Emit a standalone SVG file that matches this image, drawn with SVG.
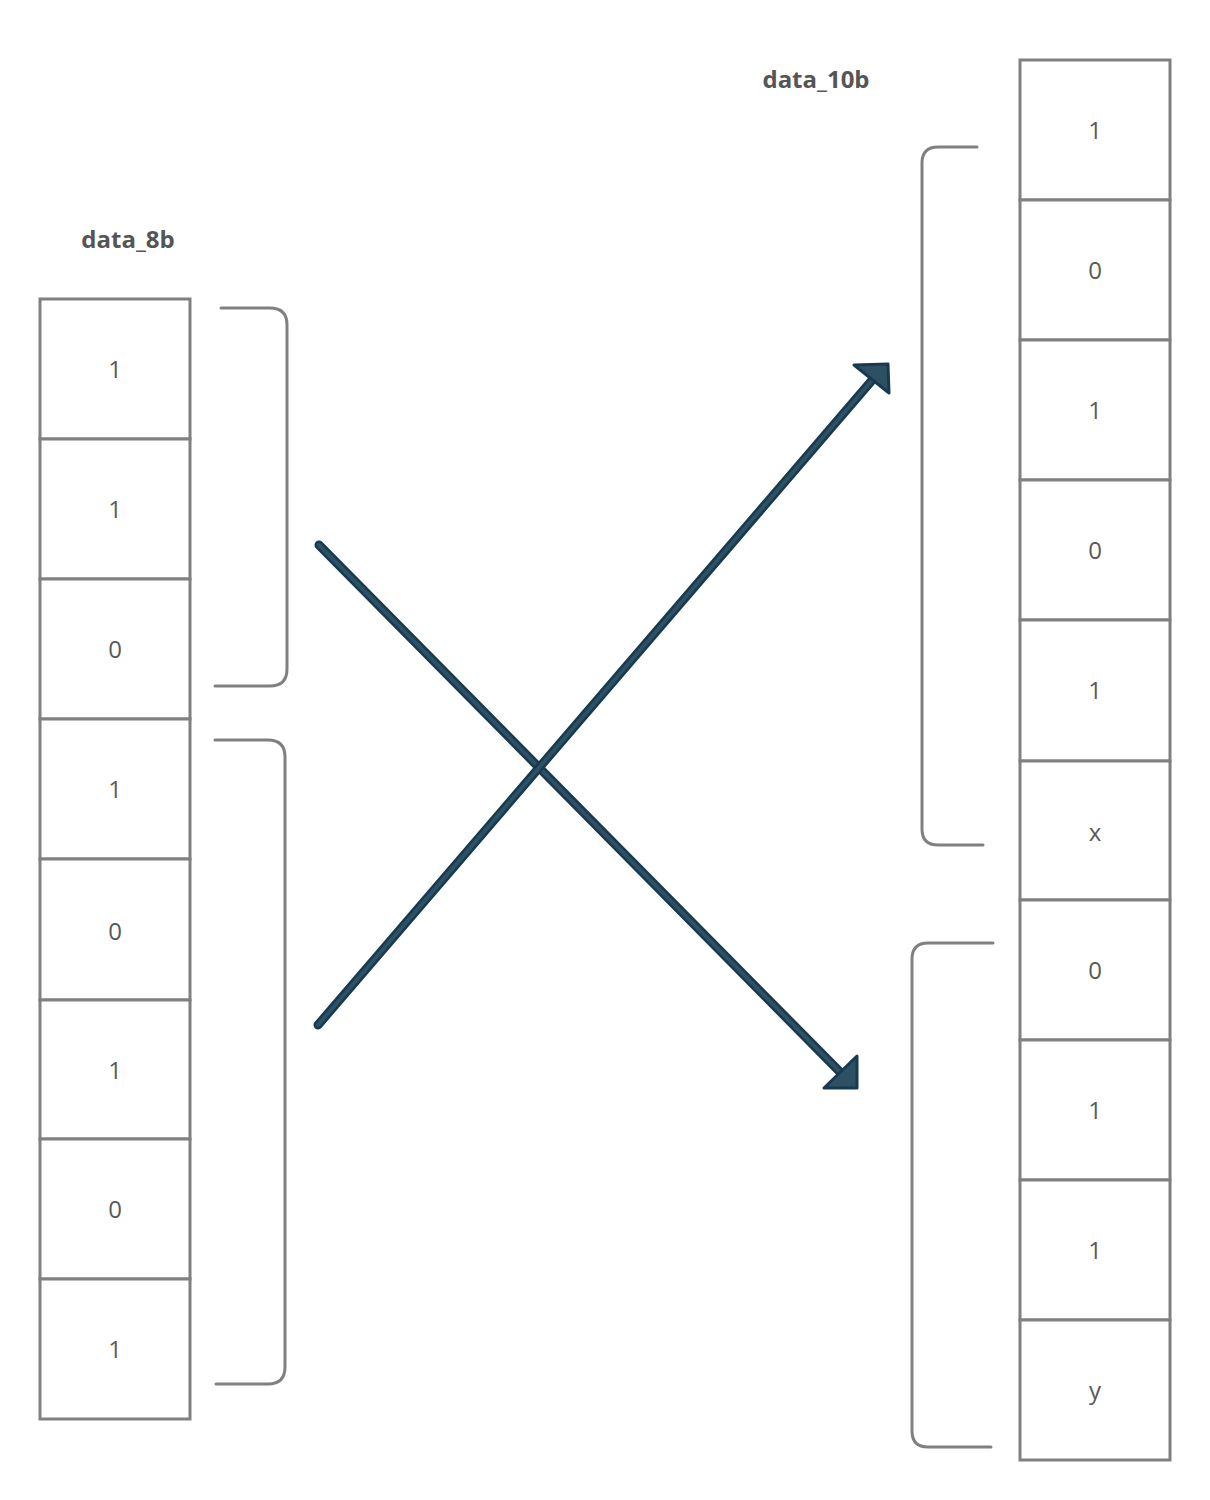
<svg xmlns="http://www.w3.org/2000/svg" width="1210" height="1500" viewBox="0 0 1210 1500">
<style>
.cell{fill:#fff;stroke:#808080;stroke-width:3}
.val{font-family:"Open Sans","Liberation Sans",sans-serif;font-size:24px;font-weight:400;fill:#595959;text-anchor:middle}
.lbl{font-family:"Open Sans","Liberation Sans",sans-serif;font-size:24px;font-weight:700;fill:#555;text-anchor:middle}
.br{fill:none;stroke:#808080;stroke-width:3;stroke-linecap:round}
.ao{fill:none;stroke:#173a4f;stroke-width:9;stroke-linecap:round}
.ai{fill:none;stroke:#2e5064;stroke-width:4;stroke-linecap:round}
.ah{fill:#2e5064;stroke:#173a4f;stroke-width:3;stroke-linejoin:round}
</style>
<rect width="1210" height="1500" fill="#fff"/>
<g id="label-8b"><text class="lbl" x="128" y="248">data_8b</text></g>
<g id="label-10b"><text class="lbl" x="816" y="88">data_10b</text></g>
<g id="data_8b">
<g id="l0"><rect class="cell" x="40" y="299" width="150" height="140"/><text class="val" x="115" y="378">1</text></g>
<g id="l1"><rect class="cell" x="40" y="439" width="150" height="140"/><text class="val" x="115" y="518">1</text></g>
<g id="l2"><rect class="cell" x="40" y="579" width="150" height="140"/><text class="val" x="115" y="658">0</text></g>
<g id="l3"><rect class="cell" x="40" y="719" width="150" height="140"/><text class="val" x="115" y="798">1</text></g>
<g id="l4"><rect class="cell" x="40" y="859" width="150" height="141"/><text class="val" x="115" y="940">0</text></g>
<g id="l5"><rect class="cell" x="40" y="1000" width="150" height="139"/><text class="val" x="115" y="1079">1</text></g>
<g id="l6"><rect class="cell" x="40" y="1139" width="150" height="140"/><text class="val" x="115" y="1218">0</text></g>
<g id="l7"><rect class="cell" x="40" y="1279" width="150" height="140"/><text class="val" x="115" y="1358">1</text></g>
</g>
<g id="data_10b">
<g id="r0"><rect class="cell" x="1020" y="60" width="150" height="140"/><text class="val" x="1095" y="139">1</text></g>
<g id="r1"><rect class="cell" x="1020" y="200" width="150" height="140"/><text class="val" x="1095" y="279">0</text></g>
<g id="r2"><rect class="cell" x="1020" y="340" width="150" height="140"/><text class="val" x="1095" y="419">1</text></g>
<g id="r3"><rect class="cell" x="1020" y="480" width="150" height="140"/><text class="val" x="1095" y="559">0</text></g>
<g id="r4"><rect class="cell" x="1020" y="620" width="150" height="141"/><text class="val" x="1095" y="699">1</text></g>
<g id="r5"><rect class="cell" x="1020" y="761" width="150" height="139"/><text class="val" x="1095" y="841">x</text></g>
<g id="r6"><rect class="cell" x="1020" y="900" width="150" height="140"/><text class="val" x="1095" y="979">0</text></g>
<g id="r7"><rect class="cell" x="1020" y="1040" width="150" height="140"/><text class="val" x="1095" y="1119">1</text></g>
<g id="r8"><rect class="cell" x="1020" y="1180" width="150" height="140"/><text class="val" x="1095" y="1259">1</text></g>
<g id="r9"><rect class="cell" x="1020" y="1320" width="150" height="140"/><text class="val" x="1095" y="1399">y</text></g>
</g>
<g id="brackets">
<path class="br" d="M221,308 H270 Q287,308 287,325 V669 Q287,686 270,686 H215"/>
<path class="br" d="M215,740 H268 Q285,740 285,757 V1367 Q285,1384 268,1384 H216"/>
<path class="br" d="M977,147 H938 Q922,147 922,163 V829 Q922,845 938,845 H983"/>
<path class="br" d="M993,943 H928 Q912,943 912,959 V1431 Q912,1447 928,1447 H991"/>
</g>
<g id="connectors">
<line class="ao" x1="319" y1="545" x2="842" y2="1074"/>
<line class="ai" x1="319" y1="545" x2="842" y2="1074"/>
<polygon class="ah" points="824,1088 857,1056 857,1088"/>
<line class="ao" x1="318" y1="1025" x2="874" y2="378"/>
<line class="ai" x1="318" y1="1025" x2="874" y2="378"/>
<polygon class="ah" points="854,365 888,364 889,393"/>
</g>
</svg>
